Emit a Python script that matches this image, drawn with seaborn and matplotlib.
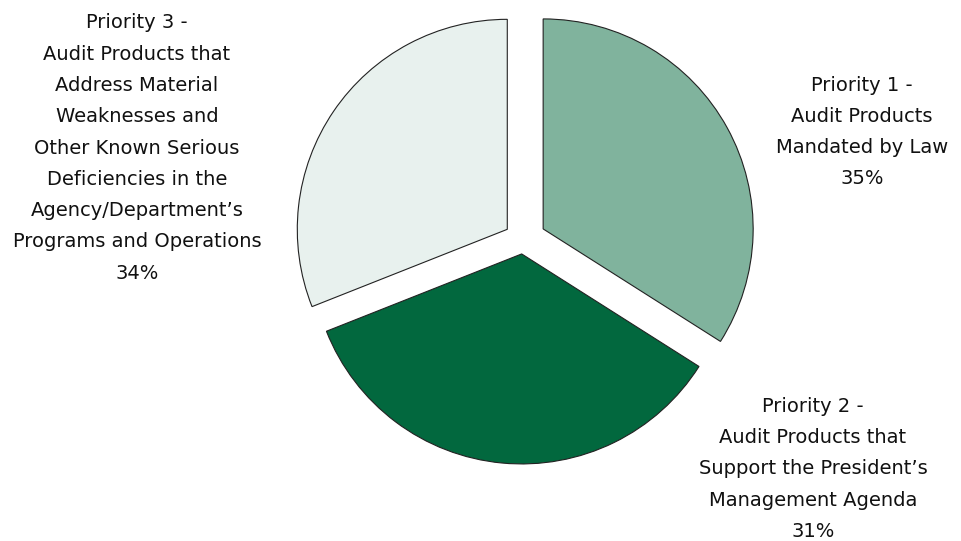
import matplotlib
matplotlib.use("Agg")
import matplotlib.pyplot as plt
import seaborn as sns

# ---- data ----
categories = [
    "Priority 1 -\nAudit Products\nMandated by Law",
    "Priority 2 -\nAudit Products that\nSupport the President\u2019s\nManagement Agenda",
    "Priority 3 -\nAudit Products that\nAddress Material\nWeaknesses and\nOther Known Serious\nDeficiencies in the\nAgency/Department\u2019s\nPrograms and Operations",
]
# percentages printed in the labels
label_pcts = [35, 31, 34]
# wedge sizes as drawn in the picture (clockwise from 12 o'clock)
wedge_sizes = [34, 35, 31]
colors = ["#80B39D", "#02683E", "#E8F1EE"]

sns.set_theme(style="white")
plt.rcParams["font.family"] = ["DejaVu Sans"]

W, H = 961, 541
fig = plt.figure(figsize=(W / 100, H / 100), dpi=100)
ax = fig.add_axes([0, 0, 1, 1])

radius = 210
center = (523, H - 240)
ax.pie(wedge_sizes, colors=sns.color_palette(colors), startangle=90, counterclock=False,
       radius=radius, center=center, explode=[23, 14, 19],
       wedgeprops=dict(edgecolor="#222222", linewidth=0.8), frame=False)
ax.set_xlim(0, W)
ax.set_ylim(0, H)
ax.set_aspect("equal")
ax.axis("off")

label_pos = [(862, H - 132), (813, H - 469), (137, H - 148)]
for name, pct, (x, y) in zip(categories, label_pcts, label_pos):
    ax.text(x, y, f"{name}\n{pct}%", ha="center", va="center", multialignment="center",
            fontsize=14, linespacing=1.82, color="#111111")

fig.savefig("out.png", dpi=100, facecolor="white")
